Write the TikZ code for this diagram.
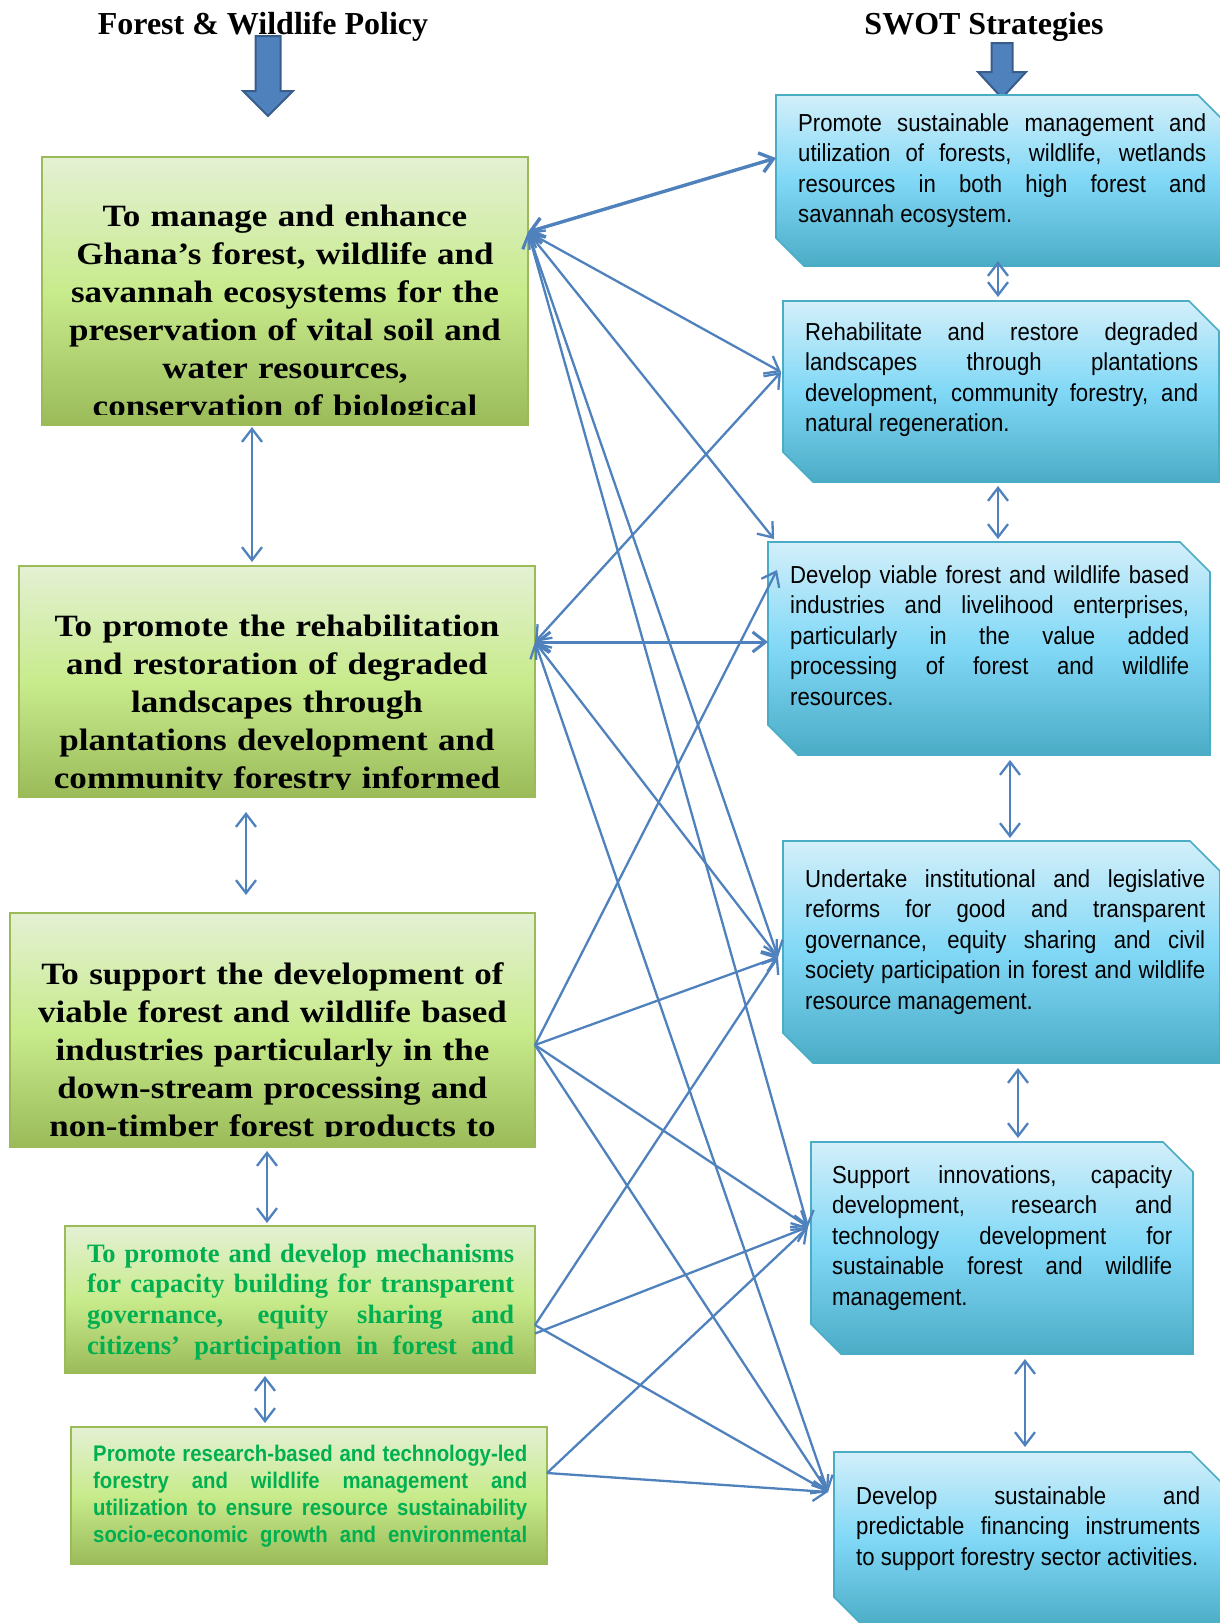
\documentclass[tikz,border=0pt]{standalone}
\usepackage{fontspec}
\setmainfont{Liberation Serif}
\newfontfamily\cambfont[FakeStretch=1.13]{Liberation Serif}
\newfontfamily\sansn[FakeStretch=0.9]{Liberation Sans}
\usetikzlibrary{arrows.meta}
\definecolor{lgT}{HTML}{E4F0D4}
\definecolor{lgM}{HTML}{C8EB8C}
\definecolor{lgB}{HTML}{9BBB59}
\definecolor{lgE}{HTML}{9BBB59}
\definecolor{bT}{HTML}{D3EFFA}
\definecolor{bM}{HTML}{80D8F6}
\definecolor{bB}{HTML}{4BACC6}
\definecolor{bE}{HTML}{4BACC6}
\definecolor{conn}{HTML}{4F81BD}
\definecolor{barr}{HTML}{4F81BD}
\definecolor{barrE}{HTML}{385D8A}
\definecolor{gtext}{HTML}{00B050}
\tolerance=10000 \hyphenpenalty=10000 \exhyphenpenalty=10000 \hbadness=10000
\tikzset{
  lbox/.style={rectangle, inner sep=0pt, outer sep=0pt, draw=lgE, line width=1.6pt,
    top color=lgT, bottom color=lgB, middle color=lgM},
  rbox/.style={rectangle, inner sep=0pt, outer sep=0pt},
  rshape/.style={draw=bE, line width=1.6pt, top color=bT, bottom color=bB, middle color=bM},
  ttl/.style={font=\bfseries\fontsize{32}{36}\selectfont, anchor=base, inner sep=0pt},
  lhd/.style={font=\cambfont\bfseries\fontsize{31}{38}\selectfont, align=center, inner sep=0pt, anchor=base},
  rtxt/.style={font=\sansn\fontsize{24.6}{30.5}\selectfont, align=justify, inner sep=0pt, anchor=base west},
  gser/.style={font=\bfseries\fontsize{26.5}{30.7}\selectfont, text=gtext, align=justify, inner sep=0pt, anchor=base west},
  gsan/.style={font=\sansn\bfseries\fontsize{22.6}{27.3}\selectfont, text=gtext, align=justify, inner sep=0pt, anchor=base west},
  con/.style={draw=conn, line width=2.3pt},
  barrow/.style={fill=barr, draw=barrE, line width=2pt, line join=miter},
}
\newcommand\chamf[2]{\path[rshape] (#1.north west) -- ([xshift=-#2]#1.north east) -- ([yshift=-#2]#1.north east) -- (#1.south east) -- ([xshift=#2]#1.south west) -- ([yshift=#2]#1.south west) -- cycle;}
\begin{document}
\begin{tikzpicture}[x=1pt, y=-1pt, >={Straight Barb[length=13pt,width=20pt]}]
\useasboundingbox (0,0) rectangle (1220,1623);

% titles
\node[ttl] (T1) at (263,34) {Forest \& Wildlife Policy};
\node[ttl] (T2) at (984,34) {SWOT Strategies};

% block arrows
\path[barrow] (255.5,36) -- (280.5,36) -- (280.5,91) -- (293,91) -- (268,116) -- (243,91) -- (255.5,91) -- cycle;
\path[barrow] (991.5,43) -- (1012.5,43) -- (1012.5,72) -- (1026,72) -- (1002,98) -- (978,72) -- (991.5,72) -- cycle;

% left boxes
\node[lbox, minimum width=486pt, minimum height=268pt] (L1) at (285,291) {};
\node[lbox, minimum width=516pt, minimum height=231pt] (L2) at (277,681.5) {};
\node[lbox, minimum width=525pt, minimum height=234pt] (L3) at (272.5,1030) {};
\node[lbox, minimum width=470pt, minimum height=147pt] (L4) at (300,1299.5) {};
\node[lbox, minimum width=476pt, minimum height=137pt] (L5) at (309,1495.5) {};

\begin{scope}
\clip ([yshift=11pt]L1.south west) rectangle (L1.north east);
\node[lhd, text width=480pt] (L1t) at (285,226) {To manage and enhance\\Ghana’s forest, wildlife and\\savannah ecosystems for the\\preservation of vital soil and\\water resources,\\conservation of biological};
\end{scope}
\begin{scope}
\clip ([yshift=8pt]L2.south west) rectangle (L2.north east);
\node[lhd, text width=510pt] (L2t) at (277,636) {To promote the rehabilitation\\and restoration of degraded\\landscapes through\\plantations development and\\community forestry informed};
\end{scope}
\begin{scope}
\clip ([yshift=11pt]L3.south west) rectangle (L3.north east);
\node[lhd, text width=520pt] (L3t) at (272.5,984) {To support the development of\\viable forest and wildlife based\\industries particularly in the\\down-stream processing and\\non-timber forest products to};
\end{scope}
\begin{scope}
\clip ([yshift=11pt]L4.south west) rectangle (L4.north east);
\node[gser, text width=427pt] (L4t) at (87,1262) {To promote and develop mechanisms\linebreak for capacity building for transparent\linebreak governance, equity sharing and\linebreak citizens’ participation in forest and\linebreak\mbox{}};
\end{scope}
\begin{scope}
\clip ([yshift=10pt]L5.south west) rectangle (L5.north east);
\node[gsan, text width=434pt] (L5t) at (93,1461) {Promote research-based and technology-led\linebreak forestry and wildlife management and\linebreak utilization to ensure resource sustainability\linebreak socio-economic growth and environmental\linebreak\mbox{}};
\end{scope}

% right boxes
\node[rbox, minimum width=450pt, minimum height=171pt] (R1) at (1001,180.5) {};
\chamf{R1}{28pt}
\node[rtxt, text width=408pt] (R1t) at (798,131) {Promote sustainable management and\linebreak utilization of forests, wildlife, wetlands\linebreak resources in both high forest and\linebreak savannah ecosystem.};

\node[rbox, minimum width=436pt, minimum height=181pt] (R2) at (1001,391.5) {};
\chamf{R2}{30pt}
\node[rtxt, text width=393pt] (R2t) at (805,340) {Rehabilitate and restore degraded\linebreak landscapes through plantations\linebreak development, community forestry, and\linebreak natural regeneration.};

\node[rbox, minimum width=442pt, minimum height=213pt] (R3) at (989,648.5) {};
\chamf{R3}{30pt}
\node[rtxt, text width=399pt] (R3t) at (790,583) {Develop viable forest and wildlife based\linebreak industries and livelihood enterprises,\linebreak particularly in the value added\linebreak processing of forest and wildlife\linebreak resources.};

\node[rbox, minimum width=437pt, minimum height=222pt] (R4) at (1001.5,952) {};
\chamf{R4}{30pt}
\node[rtxt, text width=400pt] (R4t) at (805,887) {Undertake institutional and legislative\linebreak reforms for good and transparent\linebreak governance, equity sharing and civil\linebreak society participation in forest and wildlife\linebreak resource management.};

\node[rbox, minimum width=382pt, minimum height=212pt] (R5) at (1002,1248) {};
\chamf{R5}{30pt}
\node[rtxt, text width=340pt] (R5t) at (832,1183) {Support innovations, capacity\linebreak development, research and\linebreak technology development for\linebreak sustainable forest and wildlife\linebreak management.};

\node[rbox, minimum width=387pt, minimum height=175pt] (R6) at (1027.5,1539.5) {};
\chamf{R6}{30pt}
\node[rtxt, text width=344pt] (R6t) at (856,1504) {Develop sustainable and\linebreak predictable financing instruments\linebreak to support forestry sector activities.};

% connector end points
\coordinate (L1p) at ([yshift=59pt]L1.east);
\coordinate (L2p) at ([yshift=39.5pt]L2.east);
\coordinate (L3p) at ([yshift=-15pt]L3.east);
\coordinate (L4p) at ([yshift=-25.5pt]L4.east);
\coordinate (L4q) at ([yshift=-34pt]L4.east);
\coordinate (L5p) at ([yshift=22.5pt]L5.east);
\coordinate (R1p) at ([yshift=22.5pt]R1.west);
\coordinate (R2p) at ([xshift=-2pt,yshift=19.5pt]R2.west);
\coordinate (R3a) at ([xshift=6pt,yshift=3pt]R3.north west);
\coordinate (R3b) at ([yshift=6.5pt]R3.west);
\coordinate (R3c) at ([xshift=9pt,yshift=-28pt]R3.north west);
\coordinate (R4p) at ([xshift=-5pt,yshift=-5pt]R4.west);
\coordinate (R5p) at ([xshift=-3pt,yshift=21pt]R5.west);
\coordinate (R6p) at ([xshift=-6pt,yshift=47.5pt]R6.west);

% crossing connectors
\draw[con, line width=3.4pt, <->] (L1p) -- (R1p);
\draw[con, <->] (L1p) -- (R2p);
\draw[con, <->] (L1p) -- (R3a);
\draw[con, <->] (L1p) -- (R4p);
\draw[con, <->] (L1p) -- (R5p);
\draw[con, <->] (L2p) -- (R2p);
\draw[con, line width=3pt, <->] (L2p) -- (R3b);
\draw[con, <->] (L2p) -- (R4p);
\draw[con, <->] (L2p) -- (R6p);
\draw[con, ->] (L3p) -- (R3c);
\draw[con, ->] (L3p) -- (R4p);
\draw[con, ->] (L3p) -- (R5p);
\draw[con, ->] (L3p) -- (R6p);
\draw[con, ->] (L4p) -- (R4p);
\draw[con, ->] (L4q) -- (R5p);
\draw[con, ->] (L4p) -- (R6p);
\draw[con, ->] (L5p) -- (R5p);
\draw[con, ->] (L5p) -- (R6p);

% vertical double arrows
\draw[con, <->] ([xshift=-33pt,yshift=-2pt]L1.south) -- ([xshift=-25pt,yshift=4pt]L2.north);
\draw[con, <->] ([xshift=-31pt,yshift=-15pt]L2.south) -- ([xshift=-26.5pt,yshift=18pt]L3.north);
\draw[con, <->] ([xshift=-5.5pt,yshift=-4pt]L3.south) -- ([xshift=-33pt,yshift=3pt]L4.north);
\draw[con, <->] ([xshift=-35pt,yshift=-3pt]L4.south) -- ([xshift=-44pt,yshift=4pt]L5.north);
\draw[con, <->] ([xshift=-3pt,yshift=5pt]R1.south) -- ([xshift=-3pt,yshift=4pt]R2.north);
\draw[con, <->] ([xshift=-3pt,yshift=-4pt]R2.south) -- ([xshift=9pt,yshift=3pt]R3.north);
\draw[con, <->] ([xshift=21pt,yshift=-5pt]R3.south) -- ([xshift=8.5pt,yshift=3pt]R4.north);
\draw[con, <->] ([xshift=16.5pt,yshift=-5pt]R4.south) -- ([xshift=16pt,yshift=4pt]R5.north);
\draw[con, <->] ([xshift=23pt,yshift=-5pt]R5.south) -- ([xshift=-2.5pt,yshift=5pt]R6.north);
\end{tikzpicture}
\end{document}
